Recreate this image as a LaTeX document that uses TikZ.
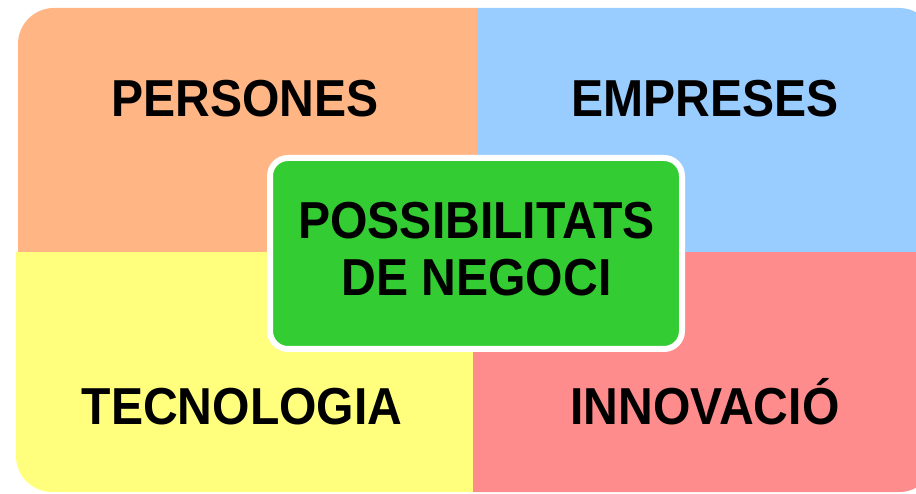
\documentclass[tikz,border=0pt]{standalone}
\usepackage{fontspec}
\setmainfont{Liberation Sans}
\definecolor{qorange}{RGB}{255,181,132}
\definecolor{qblue}{RGB}{153,204,255}
\definecolor{qyellow}{RGB}{255,255,125}
\definecolor{qred}{RGB}{255,140,140}
\definecolor{qgreen}{RGB}{51,204,51}
\newcommand{\sq}[1]{\scalebox{0.925}[1]{#1}}
\begin{document}
\begin{tikzpicture}[x=1pt,y=1pt,
  lbl/.style={font=\fontsize{52}{57}\selectfont\bfseries, text=black, inner sep=0pt, anchor=base},
  greenbox/.style={fill=qgreen, draw=white, line width=6pt, rounded corners=18pt,
    minimum width=412pt, minimum height=191pt, inner sep=0pt}]
\useasboundingbox (0,0) rectangle (916,493);
\clip (0,0) rectangle (916,493);
% quadrants
\begin{scope}
  \clip (0,240) rectangle (478,493);
  \fill[qorange, rounded corners=36pt] (18,100) rectangle (700,485);
\end{scope}
\begin{scope}
  \clip (478,240) rectangle (916,493);
  \fill[qblue, rounded corners=36pt] (300,100) rectangle (935,485);
\end{scope}
\begin{scope}
  \clip (0,0) rectangle (473,240);
  \fill[qyellow, rounded corners=36pt] (16,1) rectangle (700,400);
\end{scope}
\begin{scope}
  \clip (473,0) rectangle (916,240);
  \fill[qred, rounded corners=36pt] (300,1) rectangle (935,400);
\end{scope}
% labels
\node[lbl] (persones) at (245,376) {\sq{PERSONES}};
\node[lbl] (empreses) at (705,376) {\sq{EMPRESES}};
\node[lbl] (tecnologia) at (242,68) {\sq{TECNOLOGIA}};
\node[lbl] (innovacio) at (705,68) {\sq{INNOVACIÓ}};
% centre
\node[greenbox] (centre) at (476,239.5) {};
\node[lbl, anchor=center, align=center] (centretext) at (476.5,243.5) {\sq{POSSIBILITATS}\\\sq{DE NEGOCI}};
\end{tikzpicture}
\end{document}
